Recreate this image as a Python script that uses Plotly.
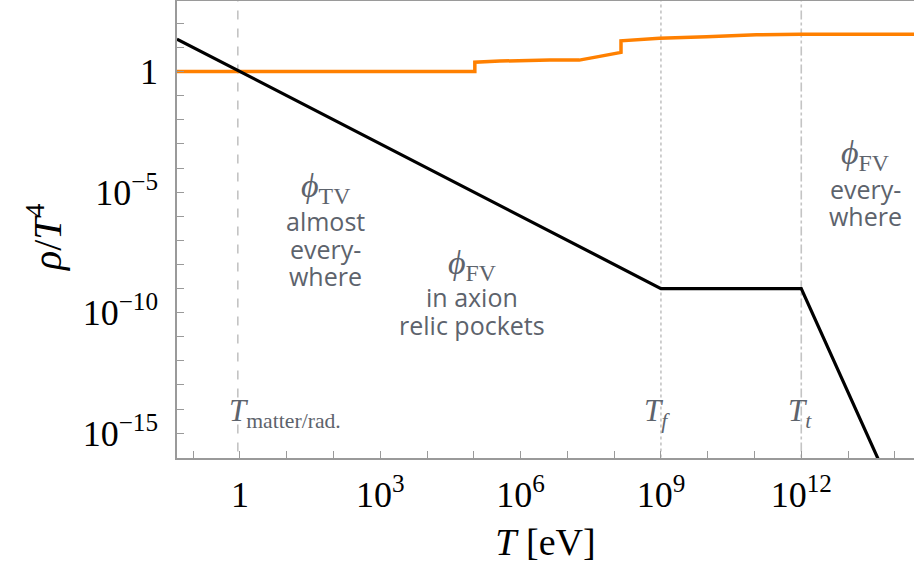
import plotly.graph_objects as go

# ---- data (T in eV, rho/T^4) ----
black_T = [0.045, 1e9, 1e12, 5.0e13]
black_rho = [22.4, 1e-9, 1e-9, 4.9e-17]

orange_T = [0.045, 1.05e5, 1.05e5, 3.6e5, 4.2e6, 1.8e7, 4.9e7, 1.4e8, 1.4e8,
            9.3e8, 9.5e9, 1.1e11, 9.3e11, 2.6e14]
orange_rho = [1, 1, 2.45, 2.75, 3.0, 3.0, 4.3, 6.3, 19, 24, 28, 34, 35.5, 35.5]

vline_T = [0.9, 1e9, 1e12]
vline_dash = ["dash", "dot", "dashdot"]
vline_labels = ["<i>T</i><sub>matter/rad.</sub>", "<i>T<sub>f</sub></i>", "<i>T<sub>t</sub></i>"]

x_tick_exp = list(range(-1, 15))
x_labels = {0: "1", 3: "10<sup>3</sup>", 6: "10<sup>6</sup>", 9: "10<sup>9</sup>", 12: "10<sup>12</sup>"}
y_tick_exp = list(range(-16, 3))
y_labels = {0: "1", -5: "10<sup>−5</sup>", -10: "10<sup>−10</sup>", -15: "10<sup>−15</sup>"}

GRAY_TXT = "#5d636c"
SERIF = "Liberation Serif"
SANS = "Open Sans"

fig = go.Figure()

for T, d in zip(vline_T, vline_dash):
    fig.add_trace(go.Scatter(x=[T, T], y=[1e-18, 1e4], mode="lines",
                             line=dict(color="#c4c4c4", width=1.6, dash=d),
                             hoverinfo="skip", showlegend=False))

fig.add_trace(go.Scatter(x=orange_T, y=orange_rho, mode="lines",
                         line=dict(color="#FF8000", width=3.5), showlegend=False))
fig.add_trace(go.Scatter(x=black_T, y=black_rho, mode="lines",
                         line=dict(color="black", width=3.2), showlegend=False))

axis_common = dict(type="log", showgrid=False, zeroline=False, ticks="inside",
                   ticklen=7, tickwidth=1.2, tickcolor="#9a9a9a", automargin=False,
                   showline=True, linecolor="#9a9a9a", linewidth=1.5,
                   tickfont=dict(family=SERIF, size=36, color="black"))

fig.update_xaxes(range=[-1.346, 14.41],
                 tickvals=[10.0 ** k for k in x_tick_exp],
                 ticktext=[x_labels.get(k, "") for k in x_tick_exp],
                 mirror=True, ticklabelstandoff=4,
                 title=dict(text="<i>T</i> [eV]", font=dict(family=SERIF, size=38, color="black"),
                            standoff=14),
                 **axis_common)
fig.update_yaxes(range=[-16.03, 2.93],
                 tickvals=[10.0 ** k for k in y_tick_exp],
                 ticktext=[y_labels.get(k, "") for k in y_tick_exp],
                 mirror=False, ticklabelstandoff=10,
                 **axis_common)

# annotations in pixel-derived paper coords
L, R, TOP, BOT = 177, 914, 1, 458

def px(x):
    return (x - L) / (R - L)

def py(y):
    return (BOT - y) / (BOT - TOP)

ann = []
def add(text, x, y, font, size, xanchor="center", color=GRAY_TXT, angle=0):
    ann.append(dict(text=text, x=px(x), y=py(y), xref="paper", yref="paper",
                    showarrow=False, xanchor=xanchor, yanchor="middle", textangle=angle,
                    font=dict(family=font, size=size, color=color)))

# y-axis title
add("<i>ρ</i>/<i>T</i><sup>4</sup>", 45, 238, SERIF, 40, color="black", angle=-90)

# region labels
add("<i>ϕ</i><sub>TV</sub>", 325, 188, SERIF, 34)
for txt, yy in [("almost", 221), ("every-", 249), ("where", 276)]:
    add(txt, 325, yy, SANS, 25)
add("<i>ϕ</i><sub>FV</sub>", 472, 265, SERIF, 34)
for txt, yy in [("in axion", 297), ("relic pockets", 325)]:
    add(txt, 472, yy, SANS, 25)
add("<i>ϕ</i><sub>FV</sub>", 865, 155, SERIF, 34)
for txt, yy in [("every-", 189), ("where", 216)]:
    add(txt, 865, yy, SANS, 25)

# vertical-line labels
add(vline_labels[0], 227, 413, SERIF, 31, xanchor="left")
add(vline_labels[1], 657, 413, SERIF, 31)
add(vline_labels[2], 800, 413, SERIF, 31)

fig.update_layout(width=914, height=572, margin=dict(l=L, r=0, t=TOP, b=572 - BOT),
                  plot_bgcolor="white", paper_bgcolor="white", annotations=ann,
                  showlegend=False)

fig.write_html("out.html", config={"displayModeBar": False},
               post_script="document.body.style.margin='0px';")
